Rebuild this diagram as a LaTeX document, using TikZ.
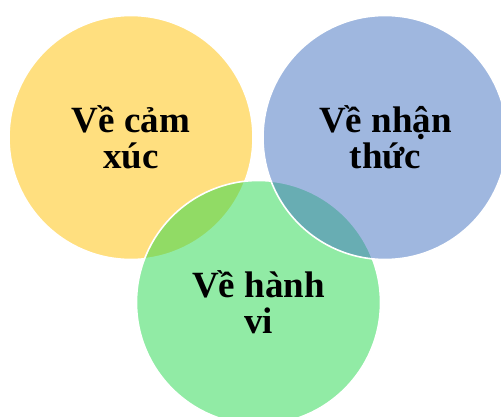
\documentclass[tikz,border=0pt]{standalone}
\usepackage{fontspec}
\setmainfont{Liberation Serif}
\definecolor{cyellow}{RGB}{255,192,0}
\definecolor{cgreen}{RGB}{37,217,77}
\definecolor{cblue}{RGB}{65,113,193}
\tikzset{
  venn/.style={circle, minimum size=244pt, inner sep=0pt, draw=white, line width=1.6pt, fill opacity=0.5, draw opacity=1},
  lbl/.style={font=\fontsize{37}{36}\selectfont\bfseries, align=center, text=black, inner sep=0pt}
}
\begin{document}
\begin{tikzpicture}[x=1pt,y=-1pt]
\useasboundingbox (0,0) rectangle (501,417);
\clip (0,0) rectangle (501,417);
\fill[white] (0,0) rectangle (501,417);
\node[venn, fill=cyellow] (emo) at (131,137.5) {};
\node[venn, fill=cgreen] (beh) at (258.5,302.5) {};
\node[venn, fill=cblue] (cog) at (385,137.5) {};
\node[lbl] (temo) at (131,137) {Về cảm\\xúc};
\node[lbl] (tcog) at (385.5,137) {Về nhận\\thức};
\node[lbl] (tbeh) at (258.5,302) {Về hành\\vi};
\end{tikzpicture}
\end{document}
